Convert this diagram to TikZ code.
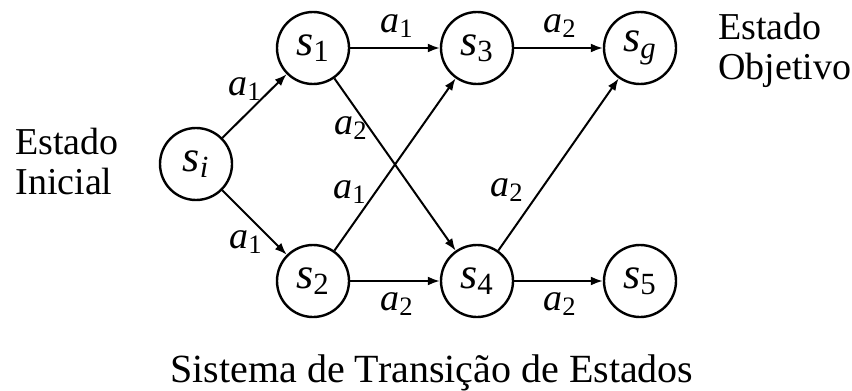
\documentclass[tikz,border=0pt]{standalone}
\usepackage{fontspec}
\setmainfont{Liberation Serif}[ItalicFont=Liberation Serif Italic]
\usetikzlibrary{arrows.meta}
\newcommand{\stx}[1]{\textit{s}\textsubscript{#1}}
\newcommand{\act}[1]{\textit{a}\textsubscript{#1}}
\tikzset{
  state/.style={circle,draw,line width=1.2pt,minimum size=36pt,inner sep=0pt,font=\fontsize{22}{24}\selectfont},
  trans/.style={-{Latex[length=6pt,width=4.5pt]},line width=1pt},
  lbl/.style={font=\fontsize{19}{20}\selectfont,inner sep=0pt},
  txt/.style={font=\fontsize{19}{20}\selectfont,align=left,inner sep=0pt}
}
\begin{document}
\begin{tikzpicture}[x=0.5pt,y=-0.5pt]
  \useasboundingbox (0,0) rectangle (852,391);
  % estados
  \node[state] (si) at (196,164) {\stx{\textit{i}}};
  \node[state] (s1) at (313,48) {\stx{1}};
  \node[state] (s2) at (313,281) {\stx{2}};
  \node[state] (s3) at (477,48) {\stx{3}};
  \node[state] (s4) at (477,281) {\stx{4}};
  \node[state] (sg) at (640,48) {\stx{\textit{g}}};
  \node[state] (s5) at (640,281) {\stx{5}};
  % transicoes
  \draw[trans] (si) -- (s1);
  \draw[trans] (si) -- (s2);
  \draw[trans] (s1) -- (s3);
  \draw[trans] (s1) -- (s4);
  \draw[trans] (s2) -- (s3);
  \draw[trans] (s2) -- (s4);
  \draw[trans] (s3) -- (sg);
  \draw[trans] (s4) -- (sg);
  \draw[trans] (s4) -- (s5);
  % rotulos
  \node[lbl] (l1) at (245,89) {\act{1}};
  \node[lbl] (l2) at (246,242) {\act{1}};
  \node[lbl] (l3) at (397,26) {\act{1}};
  \node[lbl] (l4) at (351,128) {\act{2}};
  \node[lbl] (l5) at (350,192) {\act{1}};
  \node[lbl] (l6) at (397,304) {\act{2}};
  \node[lbl] (l7) at (560,26) {\act{2}};
  \node[lbl] (l8) at (507,190) {\act{2}};
  \node[lbl] (l9) at (560,304) {\act{2}};
  % textos
  \node[txt,anchor=north west] (ini) at (15,128) {Estado\\Inicial};
  \node[txt,anchor=north west] (obj) at (718,13) {Estado\\Objetivo};
  \node[txt,anchor=base,font=\fontsize{20}{22}\selectfont] (tit) at (432,382) {Sistema de Transição de Estados};
\end{tikzpicture}
\end{document}
